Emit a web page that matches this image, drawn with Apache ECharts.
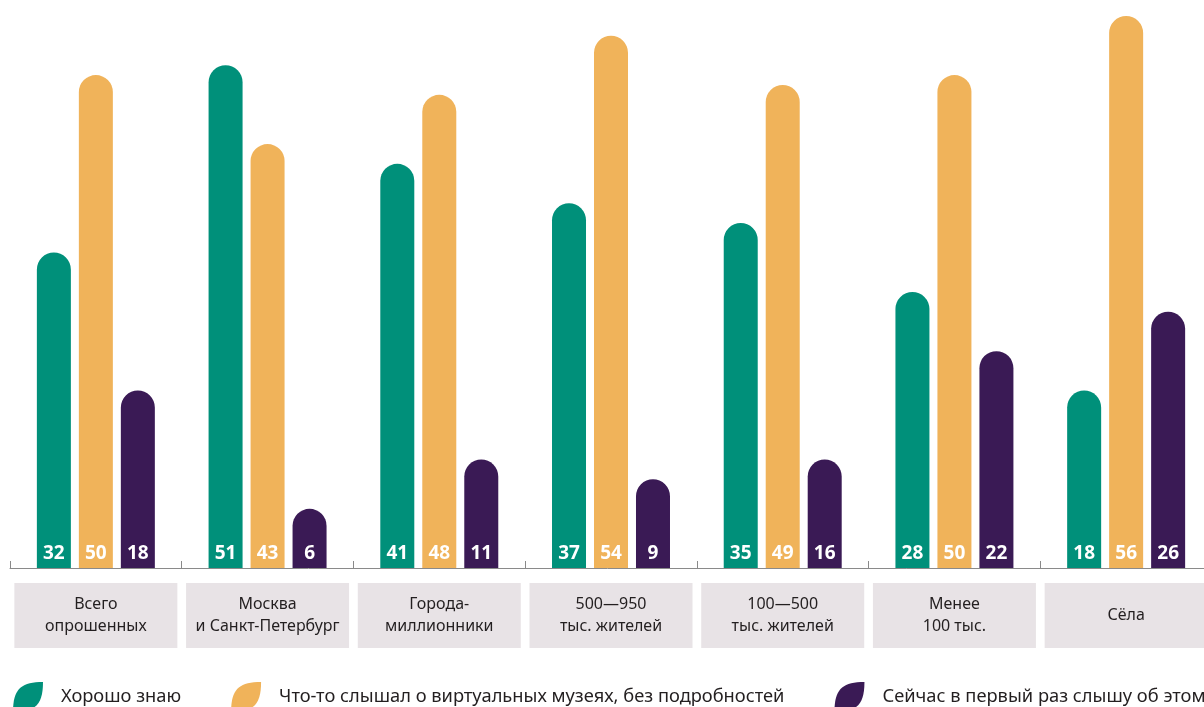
<!DOCTYPE html>
<html>
<head>
<meta charset="utf-8">
<script src="https://cdn.jsdelivr.net/npm/echarts@6/dist/echarts.min.js"></script>
<style>
html,body{margin:0;padding:0;background:#fff;}
#chart{width:1204px;height:707px;}
</style>
</head>
<body>
<div id="chart"></div>
<script>
const categories = [
  'Всего\nопрошенных',
  'Москва\nи Санкт-Петербург',
  'Города-\nмиллионники',
  '500—950\nтыс. жителей',
  '100—500\nтыс. жителей',
  'Менее\n100 тыс.',
  'Сёла'
];
const seriesNames = [
  'Хорошо знаю',
  'Что-то слышал о виртуальных музеях, без подробностей',
  'Сейчас в первый раз слышу об этом'
];
// printed values
const knowWell = [32, 51, 41, 37, 35, 28, 18];
const heardSomething = [50, 43, 48, 54, 49, 50, 56];
const firstTime = [18, 6, 11, 9, 16, 22, 26];
// bar heights as drawn in the picture (the "16" bar is drawn at the height of 11)
const firstTimeDrawn = [18, 6, 11, 9, 11, 22, 26];

const colors = ['#00907a', '#f0b35a', '#3a1a55'];
const leaf = 'path://M0,100 C0,25 25,0 100,0 C100,75 75,100 0,100 Z';

const chart = echarts.init(document.getElementById('chart'));

const catData = categories.map(c => {
  const lines = c.split('\n').length;
  return { value: c, textStyle: { padding: lines === 1 ? [21.5, 0, 21.5, 0] : [10.5, 0, 10.5, 0] } };
});

function makeSeries(name, data, labels, color) {
  return {
    name: name,
    type: 'bar',
    data: data,
    barWidth: 34,
    barGap: '23.5%',
    itemStyle: { color: color, borderRadius: [17, 17, 0, 0] },
    label: {
      show: true,
      position: 'insideBottom',
      distance: 4,
      color: '#ffffff',
      fontFamily: 'Noto Sans',
      fontWeight: 'bold',
      fontSize: 19,
      lineHeight: 20,
      formatter: p => String(labels[p.dataIndex])
    },
    emphasis: { disabled: true }
  };
}

chart.setOption({
  animation: false,
  grid: { left: 10, top: 0, bottom: 139, width: 1202, containLabel: false, outerBoundsMode: 'none' },
  legend: {
    left: 13,
    top: 682,
    width: 2000,
    padding: 0,
    itemWidth: 30,
    itemHeight: 30,
    itemGap: 50,
    icon: leaf,
    textStyle: { fontFamily: 'Noto Sans', fontSize: 18.3, color: '#231f20', padding: [0, 0, 0, 13] },
    data: seriesNames
  },
  xAxis: {
    type: 'category',
    data: catData,
    boundaryGap: true,
    axisLine: { show: true, lineStyle: { color: '#8a8a8a', width: 1 } },
    axisTick: { show: true, inside: true, length: 7, alignWithLabel: false, lineStyle: { color: '#8a8a8a' } },
    axisLabel: {
      interval: 0,
      margin: 15,
      width: 163,
      align: 'center',
      verticalAlign: 'top',
      backgroundColor: '#e8e3e6',
      fontFamily: 'Noto Sans',
      fontSize: 16,
      lineHeight: 22,
      color: '#231f20',
      hideOverlap: false
    }
  },
  yAxis: {
    type: 'value',
    min: 0,
    max: 57.62,
    show: false,
    splitLine: { show: false }
  },
  series: [
    makeSeries(seriesNames[0], knowWell, knowWell, colors[0]),
    makeSeries(seriesNames[1], heardSomething, heardSomething, colors[1]),
    makeSeries(seriesNames[2], firstTimeDrawn, firstTime, colors[2])
  ]
});
</script>
</body>
</html>
